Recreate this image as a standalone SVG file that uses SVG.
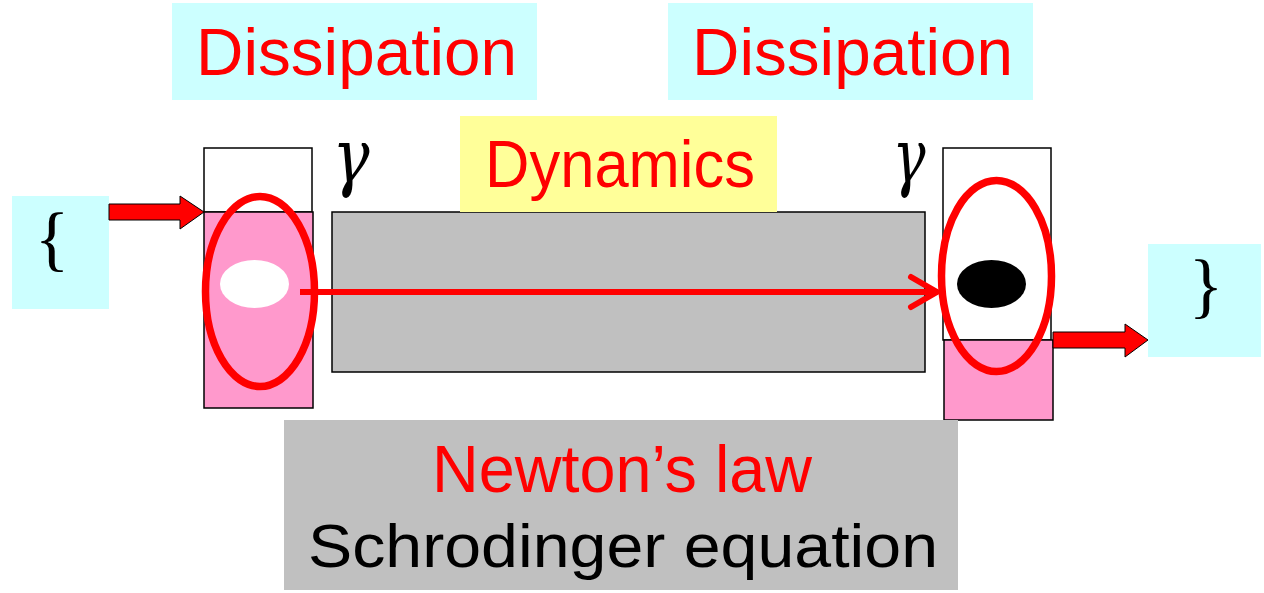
<svg xmlns="http://www.w3.org/2000/svg" width="1264" height="593" viewBox="0 0 1264 593">
<defs>
<style>
.lbl{font-family:"Liberation Sans",Arial,sans-serif;fill:#FF0000;}
.blk{font-family:"Liberation Sans",Arial,sans-serif;fill:#000;}
.cyan{fill:#CCFFFF;}
.box{stroke:#000;stroke-width:1.5;}
.pink{fill:#FF99CC;}
.white{fill:#FFFFFF;}
.gray{fill:#C0C0C0;}
.ring{fill:none;stroke:#FF0000;stroke-width:7.5;}
.gam{font-family:"DejaVu Serif","Liberation Serif",serif;font-style:italic;font-size:74px;fill:#000;}
.brace{font-family:"Liberation Serif","Times New Roman",serif;font-size:72px;fill:#000;}
.barrow{fill:#FF0000;stroke:#000;stroke-width:1;}
</style>
</defs>
<rect width="1264" height="593" fill="#FFFFFF"/>

<g id="dissipation-left">
<rect class="cyan" x="172" y="3" width="365" height="97"/>
<text class="lbl" x="196" y="75" font-size="66" textLength="321" lengthAdjust="spacingAndGlyphs">Dissipation</text>
</g>
<g id="dissipation-right">
<rect class="cyan" x="668" y="3" width="365" height="97"/>
<text class="lbl" x="692" y="75" font-size="66" textLength="321" lengthAdjust="spacingAndGlyphs">Dissipation</text>
</g>

<g id="channel">
<rect class="gray box" x="332" y="212" width="593" height="160"/>
</g>

<g id="dynamics">
<rect fill="#FFFF99" x="460" y="116" width="317" height="96"/>
<text class="lbl" x="485" y="187" font-size="66" textLength="270" lengthAdjust="spacingAndGlyphs">Dynamics</text>
</g>

<g id="gamma-left"><text class="gam" x="351" y="182" text-anchor="middle" textLength="37" lengthAdjust="spacingAndGlyphs">γ</text></g>
<g id="gamma-right"><text class="gam" x="909" y="182" text-anchor="middle" textLength="33" lengthAdjust="spacingAndGlyphs">γ</text></g>

<g id="input">
<rect class="cyan" x="12" y="196" width="97" height="113"/>
<text class="brace" x="52" y="262" text-anchor="middle">{</text>
</g>

<g id="output">
<rect class="cyan" x="1148" y="244" width="113" height="113"/>
<text class="brace" x="1206" y="309" text-anchor="middle">}</text>
</g>

<g id="left-reservoir">
<rect class="white box" x="204" y="148" width="108" height="64"/>
<rect class="pink box" x="204" y="212" width="109" height="196"/>
<ellipse fill="#FFFFFF" cx="254.5" cy="284" rx="34.5" ry="24"/>
<ellipse class="ring" cx="260" cy="291.5" rx="54.5" ry="95"/>
</g>

<g id="right-reservoir">
<rect class="white box" x="943" y="148" width="108" height="192"/>
<rect class="pink box" x="944" y="340" width="109" height="80"/>
<ellipse fill="#000000" cx="991.5" cy="284" rx="34.5" ry="24"/>
<ellipse class="ring" cx="996.5" cy="276" rx="55" ry="95.5"/>
</g>

<g id="laws">
<rect class="gray" x="284" y="420" width="674" height="170"/>
<text class="lbl" x="432" y="492" font-size="66" textLength="380" lengthAdjust="spacingAndGlyphs">Newton’s law</text>
<text class="blk" x="308" y="567" font-size="62" textLength="630" lengthAdjust="spacingAndGlyphs">Schrodinger equation</text>
</g>

<g id="connectors">
<polygon class="barrow" points="109,204 180,204 180,196 204,212 180,229 180,220 109,220"/>
<polygon class="barrow" points="1053,332 1125,332 1125,324 1148,340 1125,357 1125,348 1053,348"/>
<line x1="300" y1="292" x2="936" y2="292" stroke="#FF0000" stroke-width="6"/>
<polyline points="911,277 937,292 911,307" fill="none" stroke="#FF0000" stroke-width="6" stroke-linecap="round" stroke-linejoin="round"/>
</g>
</svg>
